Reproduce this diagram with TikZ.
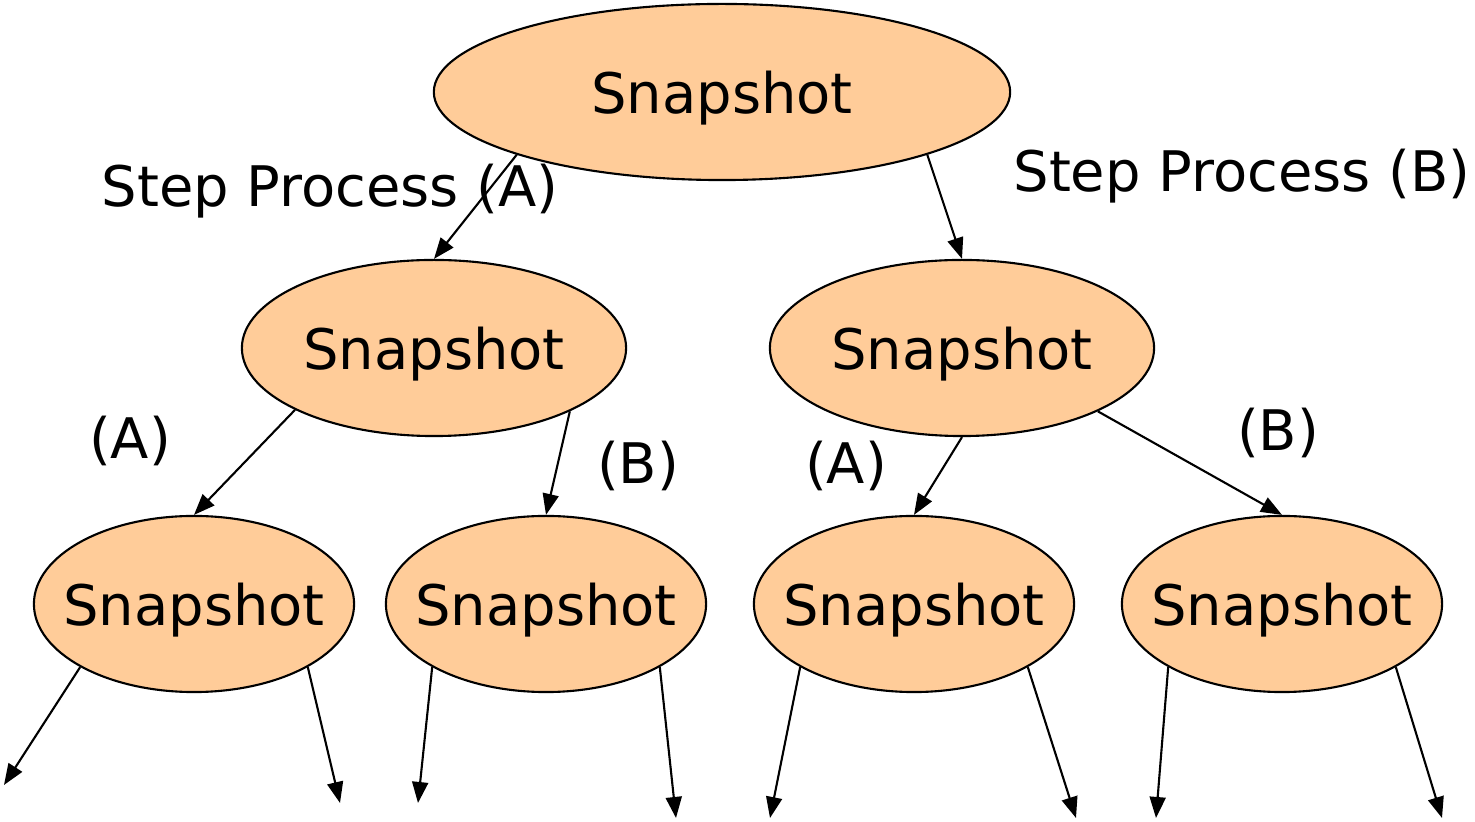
\documentclass[tikz,border=0pt]{standalone}
\usepackage{fontspec}
\setmainfont{DejaVu Sans}
\usepackage{tikz}
\usetikzlibrary{arrows.meta,shapes.geometric}
\definecolor{peach}{RGB}{255,204,153}

\begin{document}
\begin{tikzpicture}[x=0.01cm, y=-0.01cm,
  font=\fontsize{15.9}{18}\selectfont,
  snap/.style={ellipse, draw, line width=0.6pt, fill=peach, inner xsep=-0.6cm, inner ysep=0pt,
    text depth=0pt, minimum height=1.76cm},
  arr/.style={line width=0.6pt, -{Triangle[length=0.21cm, width=0.16cm]}}]

\useasboundingbox (0,0) rectangle (1475,822);

% snapshots
\node (top) at (722,92) [snap, minimum width=5.76cm]{Snapshot};
\node (ml) at (434,348) [snap, minimum width=3.84cm]{Snapshot};
\node (mr) at (962,348) [snap, minimum width=3.84cm]{Snapshot};
\node (b1) at (194,604) [snap, minimum width=3.2cm]{Snapshot};
\node (b2) at (546,604) [snap, minimum width=3.2cm]{Snapshot};
\node (b3) at (914,604) [snap, minimum width=3.2cm]{Snapshot};
\node (b4) at (1282,604) [snap, minimum width=3.2cm]{Snapshot};

% labels
\node (la) at (330,191) {Step Process (A)};
\node (lb) at (1242,176) {Step Process (B)};
\node (a1) at (130,441) {(A)};
\node (b1l) at (638,466) {(B)};
\node (a2) at (846,466) {(A)};
\node (b2l) at (1278,433) {(B)};

% loose ends
\coordinate (e1) at (4,785);
\coordinate (e2) at (340,803);
\coordinate (e3) at (418,803);
\coordinate (e4) at (676,818);
\coordinate (e5) at (770,818);
\coordinate (e6) at (1076,818);
\coordinate (e7) at (1156,818);
\coordinate (e8) at (1442,818);

\draw[arr] (top.197) -- (ml.north);
\draw[arr] (top.343) -- (mr.north);
\draw[arr] (ml.204.5) -- (b1.north);
\draw[arr] (ml.335.5) -- (b2.north);
\draw[arr] (mr.south) -- (b3.north);
\draw[arr] (mr.335.5) -- (b4.north);

\draw[arr] (b1.209) -- (e1);
\draw[arr] (b1.331) -- (e2);
\draw[arr] (b2.209) -- (e3);
\draw[arr] (b2.331) -- (e4);
\draw[arr] (b3.209) -- (e5);
\draw[arr] (b3.331) -- (e6);
\draw[arr] (b4.209) -- (e7);
\draw[arr] (b4.331) -- (e8);

\end{tikzpicture}
\end{document}
